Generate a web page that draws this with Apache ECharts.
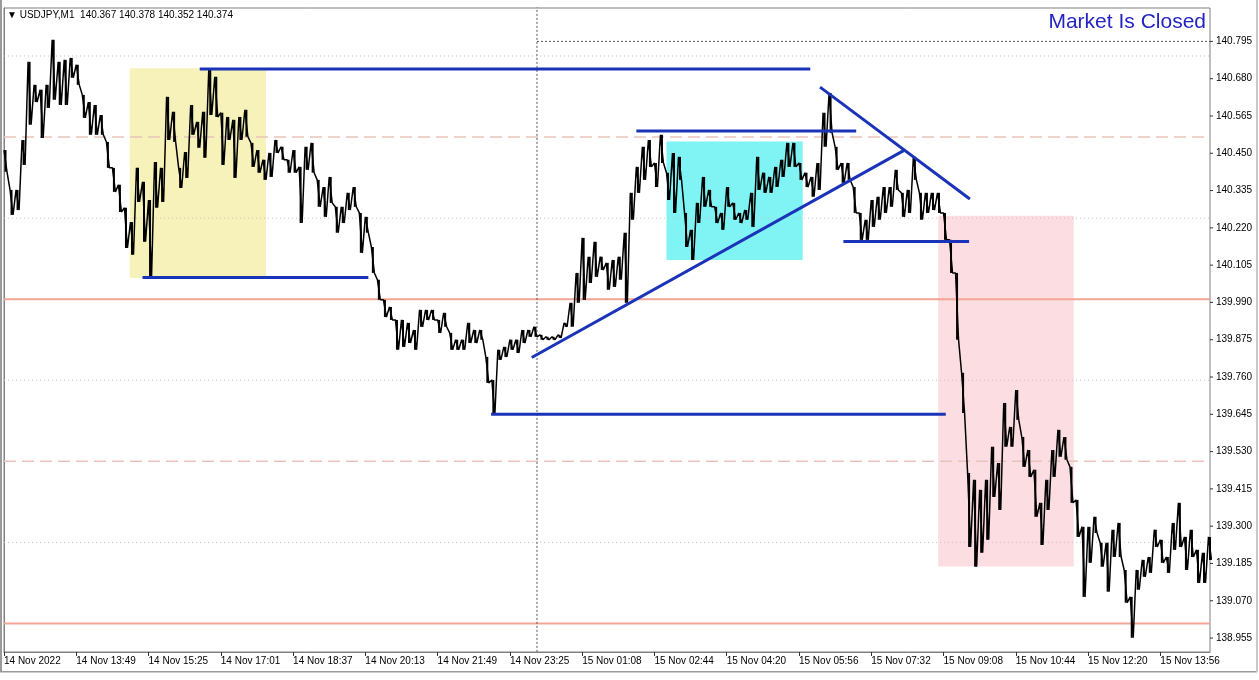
<!DOCTYPE html>
<html>
<head>
<meta charset="utf-8">
<script src="https://cdn.jsdelivr.net/npm/echarts@6/dist/echarts.min.js"></script>
<style>
html,body{margin:0;padding:0;background:#fff;}
#chart{width:1259px;height:680px;}
</style>
</head>
<body>
<div id="chart"></div>
<script>
// ---- data ----
const timeLabels = ["14 Nov 2022","14 Nov 13:49","14 Nov 15:25","14 Nov 17:01","14 Nov 18:37","14 Nov 20:13","14 Nov 21:49","14 Nov 23:25","15 Nov 01:08","15 Nov 02:44","15 Nov 04:20","15 Nov 05:56","15 Nov 07:32","15 Nov 09:08","15 Nov 10:44","15 Nov 12:20","15 Nov 13:56"];
const barsPerLabel = 96;
const barsPerSample = 8;
const totalBars = 1602;

const yTicks = [138.955,139.070,139.185,139.300,139.415,139.530,139.645,139.760,139.875,139.990,140.105,140.220,140.335,140.450,140.565,140.680,140.795];

const highs = [
140.460,140.337,140.337,140.491,140.732,140.661,140.646,140.661,140.800,140.732,
140.738,140.744,140.723,140.630,140.608,140.599,140.568,140.485,140.405,140.353,
140.282,140.238,140.405,140.362,140.306,140.423,140.405,140.624,140.578,140.405,
140.454,140.599,140.547,140.578,140.707,140.686,140.575,140.562,140.553,140.562,
140.584,140.482,140.460,140.430,140.451,140.491,140.470,140.430,140.460,140.408,
140.470,140.482,140.368,140.346,140.377,140.285,140.285,140.328,140.346,140.266,
140.254,140.161,140.060,139.998,139.976,139.936,139.936,139.927,139.905,139.967,
139.967,139.967,139.936,139.958,139.896,139.875,139.875,139.927,139.905,139.905,
139.822,139.751,139.844,139.853,139.875,139.875,139.905,139.905,139.915,139.890,
139.884,139.884,139.890,139.927,139.989,140.081,140.189,140.131,140.177,140.131,
140.112,140.121,140.131,140.205,140.328,140.408,140.470,140.491,140.420,140.507,
140.390,140.451,140.439,140.266,140.214,140.297,140.377,140.337,140.285,140.266,
140.346,140.297,140.266,140.275,140.328,140.439,140.390,140.377,140.408,140.430,
140.482,140.482,140.420,140.390,140.377,140.420,140.575,140.636,140.470,140.420,
140.420,140.346,140.266,140.245,140.306,140.316,140.346,140.346,140.399,140.328,
140.337,140.439,140.328,140.328,140.328,140.328,140.266,140.183,140.081,139.773,
139.464,139.443,139.412,139.443,139.545,139.495,139.680,139.606,139.720,139.575,
139.535,139.474,139.372,139.443,139.535,139.597,139.575,139.483,139.381,139.298,
139.298,139.329,139.249,139.249,139.289,139.310,139.165,139.082,139.165,139.196,
139.205,139.289,139.258,139.205,139.310,139.372,139.267,139.289,139.227,139.218,
139.267
];
const lows = [
140.393,140.260,140.275,140.414,140.538,140.608,140.497,140.590,140.615,140.599,
140.599,140.683,140.661,140.559,140.507,140.507,140.507,140.405,140.331,140.269,
140.158,140.137,140.300,140.177,140.069,140.282,140.300,140.491,140.485,140.343,
140.374,140.507,140.467,140.436,140.568,140.562,140.414,140.491,140.374,140.491,
140.501,140.408,140.390,140.368,140.377,140.451,140.430,140.390,140.390,140.235,
140.399,140.390,140.285,140.254,140.297,140.205,140.235,140.275,140.285,140.143,
140.205,140.081,139.998,139.945,139.936,139.844,139.853,139.865,139.844,139.915,
139.936,139.936,139.896,139.915,139.844,139.844,139.844,139.865,139.865,139.875,
139.742,139.643,139.813,139.822,139.844,139.834,139.865,139.884,139.884,139.875,
139.875,139.875,139.881,139.915,139.915,139.989,139.998,140.050,140.069,140.090,
140.029,140.038,140.060,139.989,140.245,140.328,140.368,140.408,140.346,140.420,
140.306,140.266,140.368,140.161,140.121,140.235,140.285,140.285,140.235,140.214,
140.285,140.245,140.235,140.245,140.223,140.337,140.328,140.328,140.346,140.377,
140.408,140.408,140.368,140.346,140.316,140.337,140.470,140.513,140.399,140.359,
140.368,140.266,140.183,140.183,140.223,140.245,140.266,140.285,140.337,140.254,
140.266,140.368,140.245,140.266,140.275,140.266,140.183,140.081,139.875,139.649,
139.236,139.175,139.218,139.258,139.390,139.350,139.545,139.545,139.628,139.483,
139.452,139.329,139.242,139.350,139.452,139.514,139.505,139.372,139.267,139.082,
139.187,139.279,139.175,139.098,139.205,139.205,139.064,138.956,139.104,139.144,
139.156,139.236,139.187,139.156,139.227,139.236,139.165,139.205,139.125,139.125,
139.196
];

const solidLevels = [140.00, 139.00];
const dashedLevels = [140.50, 139.50];
const dottedLevels = [140.75, 140.25, 139.75, 139.25];

// trend lines: [bar1, price1, bar2, price2]
const trendLines = [
  [260, 140.710, 1071, 140.710],
  [184, 140.067, 484, 140.067],
  [840, 140.519, 1132, 140.519],
  [1115, 140.178, 1282, 140.178],
  [647, 139.645, 1251, 139.645],
  [701, 139.820, 1195, 140.458],
  [1084, 140.654, 1283, 140.309]
];

// zones: [bar1, priceTop, bar2, priceBottom]
const zones = [
  [167, 140.712, 348, 140.065],
  [880, 140.486, 1061, 140.121],
  [1241, 140.257, 1421, 139.176]
];
const zoneColors = ['#f6f2b9', '#80f4f4', '#fcdde2'];

const crossBar = 708;
const crossPrice = 140.795;
const lastPrice = 140.374;
const headerText = '\u25BC USDJPY,M1  140.367 140.378 140.352 140.374';

// ---- build ----
const pricePath = [];
const barRanges = [];
for (let i = 0; i < highs.length; i++) {
  pricePath.push([i * barsPerSample, highs[i]]);
  pricePath.push([i * barsPerSample + barsPerSample / 2, lows[i]]);
  barRanges.push([i * barsPerSample + barsPerSample / 4, lows[i], highs[i]]);
}
const labelBars = timeLabels.map((_, i) => i * barsPerLabel);

const FONT = 'Liberation Sans';
const series = [];

series.push({
  type: 'custom', z: 1, silent: true,
  renderItem: function (params, api) {
    const p1 = api.coord([api.value(0), api.value(1)]);
    const p2 = api.coord([api.value(2), api.value(3)]);
    return { type: 'rect', shape: { x: p1[0], y: p1[1], width: p2[0] - p1[0], height: p2[1] - p1[1] },
      style: { fill: zoneColors[params.dataIndex] } };
  },
  data: zones
});

function hLine(p, style, z) {
  return { type: 'line', z: z, silent: true, symbol: 'none',
    data: [[0, p], [totalBars, p]], lineStyle: style };
}
solidLevels.forEach(p => series.push(hLine(p, { color: '#f3a593', width: 2, type: 'solid' }, 2)));
dashedLevels.forEach(p => series.push(hLine(p, { color: '#e9c3bc', width: 1.5, type: [12, 6] }, 2)));
dottedLevels.forEach(p => series.push(hLine(p, { color: '#d6bcbc', width: 1, type: [1, 3] }, 2)));

series.push({ type: 'line', z: 2, silent: true, symbol: 'none',
  data: [[crossBar, 138.9], [crossBar, 140.95]], lineStyle: { color: '#555', width: 1, type: [2, 2] } });
series.push({ type: 'line', z: 2, silent: true, symbol: 'none',
  data: [[crossBar, crossPrice], [totalBars, crossPrice]], lineStyle: { color: '#555', width: 1, type: [2, 2] } });

// vertical high-low bars
series.push({
  type: 'custom', z: 3, silent: true,
  renderItem: function (params, api) {
    const a = api.coord([api.value(0), api.value(1)]);
    const b = api.coord([api.value(0), api.value(2)]);
    return { type: 'line', shape: { x1: a[0], y1: a[1], x2: b[0], y2: b[1] },
      style: { stroke: '#000', lineWidth: 2 } };
  },
  data: barRanges
});

series.push({
  type: 'line', z: 3, silent: true, symbol: 'none', data: pricePath,
  lineStyle: { color: '#000', width: 1.5 },
  markLine: {
    silent: true, symbol: ['none', 'none'],
    data: [{ yAxis: lastPrice }],
    lineStyle: { opacity: 0 },
    label: { show: true, position: 'end', distance: 1, formatter: lastPrice.toFixed(3),
      color: '#fff', backgroundColor: '#000', padding: [2, 2, 1, 3], fontSize: 10, fontFamily: FONT }
  }
});

trendLines.forEach(t => series.push({
  type: 'line', z: 4, silent: true, symbol: 'none',
  data: [[t[0], t[1]], [t[2], t[3]]],
  lineStyle: { color: '#1b33b8', width: 3 }
}));

// right-side price ticks, placed through the axis scales
series.push({
  type: 'custom', z: 5, silent: true, clip: false,
  renderItem: function (params, api) {
    const p = api.coord([totalBars, api.value(0)]);
    return { type: 'line', shape: { x1: p[0], y1: p[1], x2: p[0] + 3, y2: p[1] },
      style: { stroke: '#333', lineWidth: 1 } };
  },
  data: yTicks.map(v => [v])
});

const chart = echarts.init(document.getElementById('chart'), null, { renderer: 'canvas' });
chart.setOption({
  animation: false,
  backgroundColor: '#fff',
  textStyle: { fontFamily: FONT },
  grid: { left: 4, right: 49, top: 8, bottom: 28, show: true, borderColor: '#808080', borderWidth: 1, backgroundColor: 'transparent' },
  xAxis: {
    type: 'value', min: 0, max: totalBars,
    axisLine: { show: true, lineStyle: { color: '#808080' } },
    axisTick: { show: true, customValues: labelBars, length: 4, lineStyle: { color: '#333' } },
    axisLabel: { customValues: labelBars, formatter: v => timeLabels[Math.round(v / barsPerLabel)] || '',
      align: 'left', color: '#000', fontSize: 10, fontFamily: FONT, margin: 4 },
    splitLine: { show: false }
  },
  yAxis: {
    type: 'value', position: 'right', min: 138.912, max: 140.898,
    axisLine: { show: true, lineStyle: { color: '#808080' } },
    axisTick: { show: false },
    axisLabel: { customValues: yTicks, formatter: v => v.toFixed(3), color: '#000', fontSize: 10, fontFamily: FONT, margin: 6 },
    splitLine: { show: false }
  },
  graphic: [
    { type: 'text', left: 7, top: 10, style: { text: headerText, font: '10px "Liberation Sans"', fill: '#000' } },
    { type: 'text', right: 53, top: 12, style: { text: 'Market Is Closed', font: '21px "Liberation Sans"', fill: '#2424c4' } },
    { type: 'rect', shape: { x: 0, y: 0, width: 2, height: 672 }, style: { fill: '#9a9a9a' } },
    { type: 'rect', shape: { x: 0, y: 671, width: 1257, height: 1.5 }, style: { fill: '#9a9a9a' } },
    { type: 'rect', shape: { x: 1256, y: 0, width: 2, height: 672 }, style: { fill: '#c8c8c8' } }
  ],
  series: series
});
</script>
</body>
</html>
